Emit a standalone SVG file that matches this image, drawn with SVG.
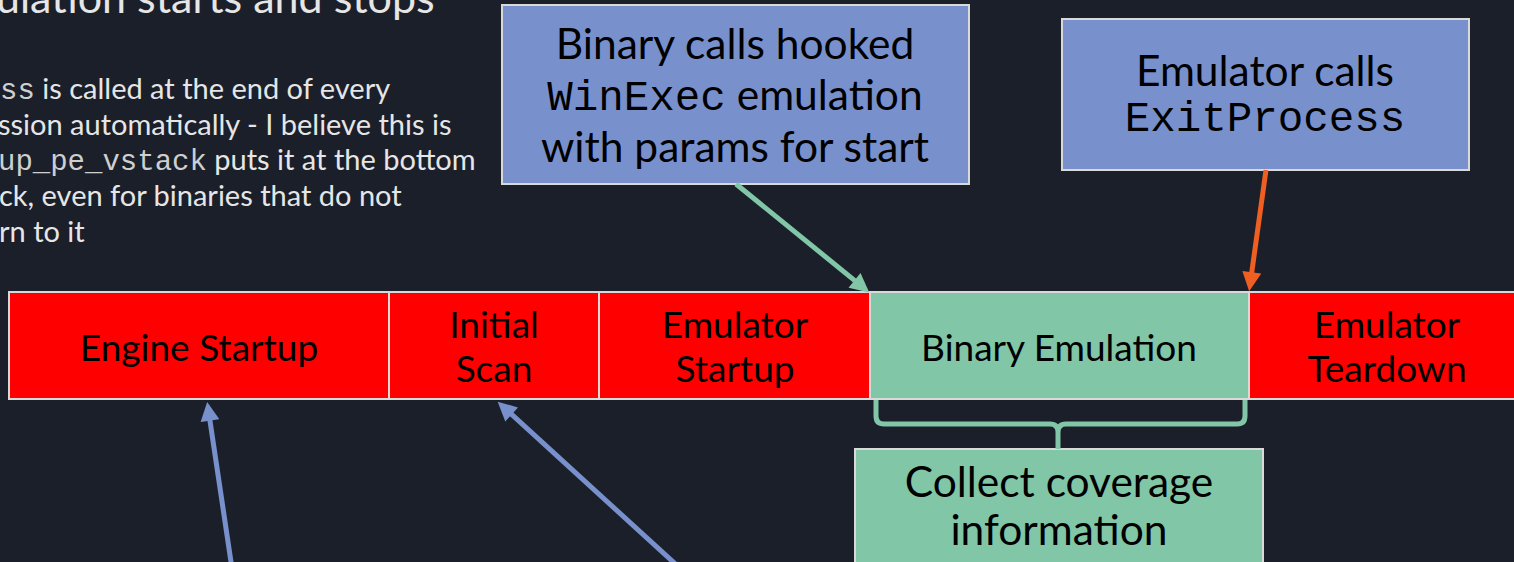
<svg xmlns="http://www.w3.org/2000/svg" width="1514" height="562" viewBox="0 0 1514 562">
  <style>
    .bg { fill: #1b1f2a; }
    .lato { font-family: Lato, "Liberation Sans", sans-serif; }
    .mono { font-family: "Liberation Mono", "DejaVu Sans Mono", monospace; }
    .note { fill: #e6e6e6; font-size: 29px; }
    .note .mono { fill: #cfcfcf; }
    .title { fill: #e6e6e6; font-size: 43px; }
    .seg { stroke: #d9d9d9; stroke-width: 2; }
    .red { fill: #ff0000; }
    .green { fill: #80c6a7; }
    .blue { fill: #7891cd; }
    .label { fill: #000000; text-anchor: middle; }
    .barlabel { font-size: 37px; }
    .boxlabel { font-size: 42.5px; }
    .conn { fill: none; stroke-width: 5; }
  </style>
  <defs>
    <marker id="headGreen" viewBox="0 0 10 10" refX="1" refY="5" markerWidth="4" markerHeight="3.8" orient="auto">
      <path d="M0,0 L10,5 L0,10 z" fill="#80c6a7"/>
    </marker>
    <marker id="headOrange" viewBox="0 0 10 10" refX="1" refY="5" markerWidth="4" markerHeight="3.8" orient="auto">
      <path d="M0,0 L10,5 L0,10 z" fill="#f05f22"/>
    </marker>
    <marker id="headBlue" viewBox="0 0 10 10" refX="1" refY="5" markerWidth="4" markerHeight="3.8" orient="auto">
      <path d="M0,0 L10,5 L0,10 z" fill="#7891cd"/>
    </marker>
  </defs>

  <rect class="bg" x="0" y="0" width="1514" height="562"/>

  <!-- heading and notes -->
  <text class="lato title" x="-4" y="12.5">ulation starts and stops</text>
  <g class="lato note">
    <text x="0" y="99"><tspan class="mono">ss</tspan> is called at the end of every</text>
    <text x="-2" y="135">ssion automatically -  I believe this is</text>
    <text x="-2" y="170"><tspan class="mono">up_pe_vstack</tspan> puts it at the bottom</text>
    <text x="-1" y="206">ck, even for binaries that do not</text>
    <text x="-1" y="242">rn to it</text>
  </g>

  <!-- timeline bar -->
  <g id="engine-startup">
    <rect class="seg red" x="9" y="292" width="380" height="107"/>
    <text class="lato label barlabel" x="199" y="361">Engine Startup</text>
  </g>
  <g id="initial-scan">
    <rect class="seg red" x="389" y="292" width="210" height="107"/>
    <text class="lato label barlabel" x="494" y="338">Initial</text>
    <text class="lato label barlabel" x="494" y="382">Scan</text>
  </g>
  <g id="emulator-startup">
    <rect class="seg red" x="599" y="292" width="271" height="107"/>
    <text class="lato label barlabel" x="735" y="338">Emulator</text>
    <text class="lato label barlabel" x="735" y="382">Startup</text>
  </g>
  <g id="binary-emulation">
    <rect class="seg green" x="870" y="292" width="379" height="107"/>
    <text class="lato label barlabel" x="1059" y="361">Binary Emulation</text>
  </g>
  <g id="emulator-teardown">
    <rect class="seg red" x="1249" y="292" width="280" height="107"/>
    <text class="lato label barlabel" x="1387" y="338">Emulator</text>
    <text class="lato label barlabel" x="1387" y="382">Teardown</text>
  </g>

  <!-- callouts -->
  <g id="winexec-hook">
    <rect class="seg blue" x="502" y="5" width="467" height="179"/>
    <text class="lato label boxlabel" x="735" y="59">Binary calls hooked</text>
    <text class="label boxlabel" x="735" y="110"><tspan class="mono">WinExec</tspan><tspan class="lato"> emulation</tspan></text>
    <text class="lato label boxlabel" x="735" y="162">with params for start</text>
  </g>
  <g id="exit-process">
    <rect class="seg blue" x="1062" y="19" width="407" height="151"/>
    <text class="lato label boxlabel" x="1265" y="86">Emulator calls</text>
    <text class="mono label boxlabel" x="1265" y="131">ExitProcess</text>
  </g>
  <g id="coverage">
    <rect class="seg green" x="855" y="449" width="408" height="130"/>
    <text class="lato label boxlabel" x="1059" y="497">Collect coverage</text>
    <text class="lato label boxlabel" x="1059" y="545">information</text>
  </g>

  <!-- connectors -->
  <g id="connectors">
    <line class="conn" stroke="#80c6a7" x1="736" y1="184" x2="856" y2="281.6" marker-end="url(#headGreen)"/>
    <line class="conn" stroke="#f05f22" x1="1266" y1="170" x2="1251.5" y2="274.2" marker-end="url(#headOrange)"/>
    <line class="conn" stroke="#7891cd" x1="232.2" y1="570" x2="209.7" y2="418.8" marker-end="url(#headBlue)"/>
    <line class="conn" stroke="#7891cd" x1="682" y1="570" x2="510.3" y2="413.2" marker-end="url(#headBlue)"/>
    <path class="conn" stroke="#80c6a7" stroke-width="4" d="M876,400 V416 Q876,424 884,424 H1050 Q1058,424 1058,432 V449 M1058,432 Q1058,424 1066,424 H1237 Q1245,424 1245,416 V400"/>
  </g>
</svg>
